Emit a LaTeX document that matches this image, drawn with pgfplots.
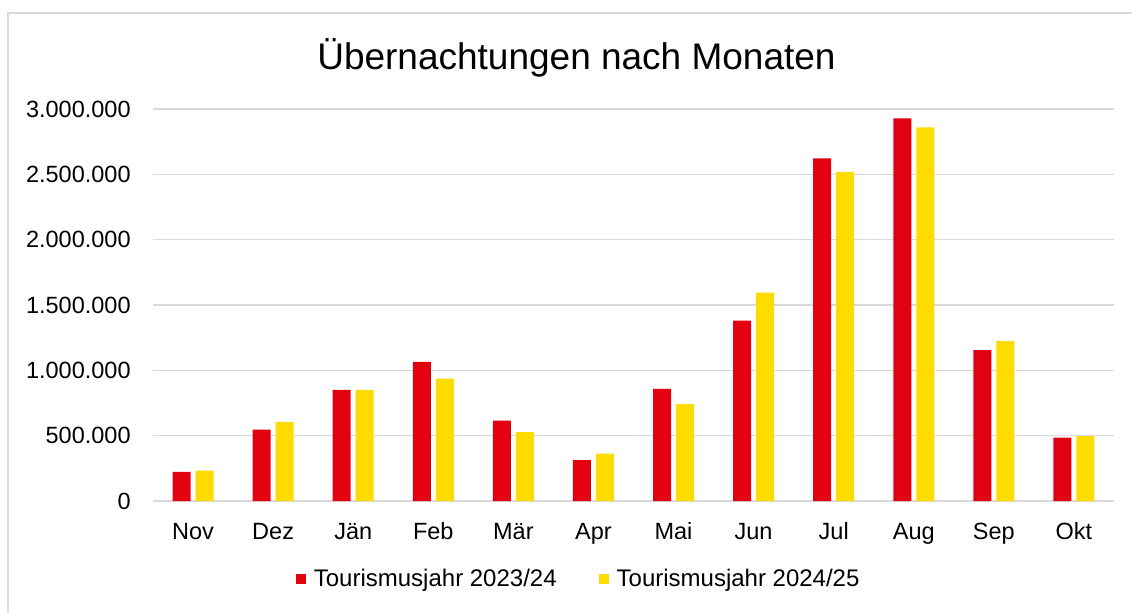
\documentclass[border=0pt]{standalone}
\usepackage{fontspec}
\setmainfont{Liberation Sans}
\usepackage{pgfplots}
\pgfplotsset{compat=1.18}
\definecolor{cred}{HTML}{E3000F}
\definecolor{cyel}{HTML}{FFDC00}
\definecolor{cgrid}{HTML}{D9D9D9}
\begin{document}
\begin{tikzpicture}[x=1pt,y=1pt]
\useasboundingbox (-76.5,-55.5) rectangle (489.5,250.5);
\draw[cgrid, line width=1pt] (-72.5,-60) -- (-72.5,244) -- (495,244);
\begin{axis}[
  at={(0,0)}, anchor=south west,
  width=480.5pt, height=196pt, scale only axis,
  ymin=0, ymax=3000000,
  xmin=-0.5, xmax=11.5,
  ytick={0,500000,1000000,1500000,2000000,2500000,3000000},
  scaled y ticks=false,
  xtick={0,1,2,3,4,5,6,7,8,9,10,11},
  xticklabels={Nov,Dez,Jän,Feb,Mär,Apr,Mai,Jun,Jul,Aug,Sep,Okt},
  axis line style={draw=none},
  major tick length=0pt,
  ymajorgrids, major grid style={cgrid, line width=0.8pt},
  yticklabel style={inner sep=0pt, xshift=-11pt, font=\fontsize{11.75}{14}\selectfont,
     /pgf/number format/.cd, fixed, precision=0, 1000 sep={.}, assume math mode=true},
  xticklabel style={inner sep=0pt, text height=9pt, text depth=2pt, yshift=-10pt, font=\fontsize{11.75}{14}\selectfont},
  ybar=2.5pt, bar width=9pt,
  legend columns=2,
  legend style={at={(0.444,-0.199)}, anchor=center, draw=none, fill=none,
     font=\fontsize{12}{14}\selectfont,
     /tikz/every odd column/.append style={column sep=2pt},
     /tikz/every even column/.append style={column sep=19pt}},
  legend image code/.code={\fill[#1] (0pt,-2.5pt) rectangle (5pt,2.5pt);},
]
\addplot[fill=cred, draw=none] coordinates {
 (0,222000) (1,547000) (2,851000) (3,1065000) (4,616000) (5,313000)
 (6,858000) (7,1381000) (8,2622000) (9,2928000) (10,1154000) (11,486000)};
\addplot[fill=cyel, draw=none] coordinates {
 (0,232000) (1,606000) (2,851000) (3,937000) (4,527000) (5,362000)
 (6,742000) (7,1595000) (8,2518000) (9,2859000) (10,1223000) (11,497000)};
\legend{Tourismusjahr 2023/24, Tourismusjahr 2024/25}
\end{axis}
\node[anchor=base, font=\fontsize{18.5}{22}\selectfont] at (211.75,215.5) {Übernachtungen nach Monaten};
\end{tikzpicture}
\end{document}
